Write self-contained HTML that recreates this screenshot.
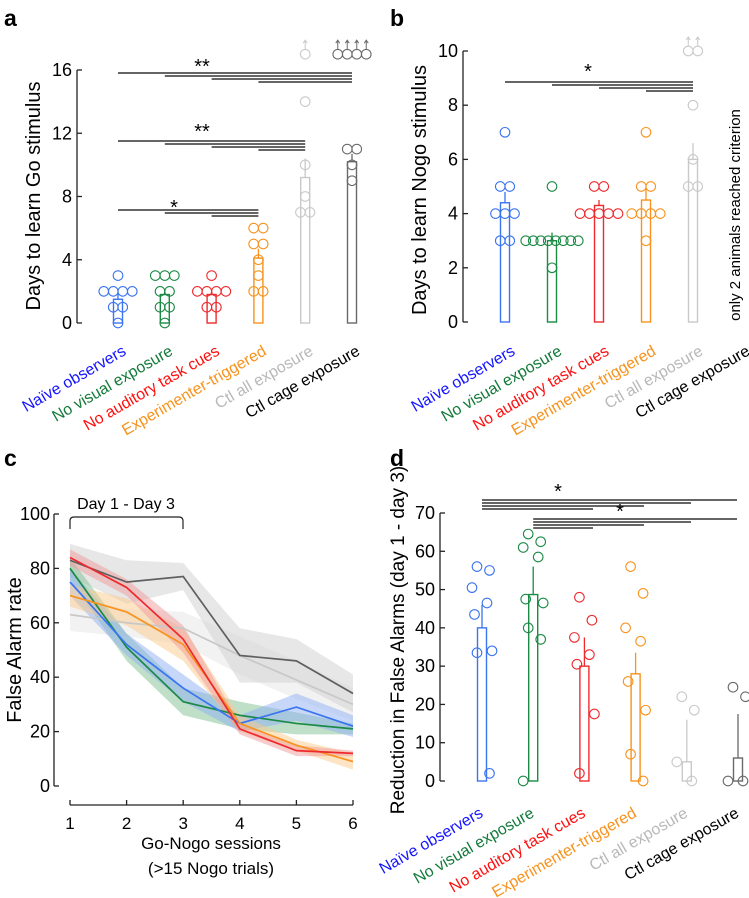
<!DOCTYPE html>
<html><head><meta charset="utf-8">
<style>
html,body{margin:0;padding:0;background:#fff;}
svg{display:block;font-family:"Liberation Sans",Arial,sans-serif;}
</style></head>
<body>
<svg id="fig" width="749" height="898" viewBox="0 0 749 898" xmlns="http://www.w3.org/2000/svg">
<text x="4" y="26" font-size="23" font-weight="bold">a</text>
<text x="390" y="26" font-size="23" font-weight="bold">b</text>
<text x="4" y="466" font-size="23" font-weight="bold">c</text>
<text x="390" y="466" font-size="23" font-weight="bold">d</text>
<text transform="translate(40,196) rotate(-90)" text-anchor="middle" font-size="20">Days to learn Go stimulus</text>
<text transform="translate(426,190) rotate(-90)" text-anchor="middle" font-size="20">Days to learn Nogo stimulus</text>
<text transform="translate(740,215) rotate(-90)" text-anchor="middle" font-size="15">only 2 animals reached criterion</text>
<text transform="translate(21,650) rotate(-90)" text-anchor="middle" font-size="20">False Alarm rate</text>
<text transform="translate(404,640) rotate(-90)" text-anchor="middle" font-size="19">Reduction in False Alarms (day 1 - day 3)</text>
<text x="211" y="849" text-anchor="middle" font-size="17">Go-Nogo sessions</text>
<text x="211" y="874" text-anchor="middle" font-size="17">(&gt;15 Nogo trials)</text>
<text x="126" y="509" text-anchor="middle" font-size="16">Day 1 - Day 3</text>
<path d="M70,529 V521 Q70,517 74,517 H179 Q183,517 183,521 V529" fill="none" stroke="#222" stroke-width="1.2"/>
</svg>
<script>
const groupNames = ["Naïve observers","No visual exposure","No auditory task cues","Experimenter-triggered","Ctl all exposure","Ctl cage exposure"];
const groupColors = ["#3a74f0","#1b8a45","#ee2a2e","#f7931e","#c9c9c9","#6a6a6a"];
const labelColors = ["#1515ff","#137a3a","#ff1010","#f7931e","#b8b8b8","#000000"];

// panel a
const aMeans = [1.5,1.8,1.8,4.1,9.2,10.2];
const aErr = [1.9,2.1,2.0,4.7,10.4,10.7];
const aPoints = [[3,2,2,2,2,1,1,0],[3,3,3,2,2,1,1,0],[3,2,2,2,2,1,1],[6,6,5,5,4,3,2,2],[17,14,10,8,7,7],[17,17,17,17,11,11,10,9]];
const aArrows = [0,0,0,0,1,4];
const aTicks = [0,4,8,12,16];
// panel b
const bMeans = [4.4,3.0,4.3,4.5,6.0];
const bErr = [4.8,3.3,4.5,4.9,6.6];
const bPoints = [[7,5,5,4,4,4,3,3],[5,3,3,3,3,3,3,3,3,2],[5,5,4,4,4,4,4],[7,5,5,4,4,4,4,3],[10,10,8,6,5,5]];
const bArrows = [0,0,0,0,2];
const bTicks = [0,2,4,6,8,10];
// panel c
const cSessions = [1,2,3,4,5,6];
const cTicksY = [0,20,40,60,80,100];
const cDark = [83,75,77,48,46,34];
const cLight = [63,60,58,48,39,30];
const cRed = [84,73,54,21,13,12];
const cOrange = [70,64,52,23,15,9];
const cGreen = [80,51,31,26,23,21];
const cBlue = [75,52,36,23,29,22];
const cDarkSem = [6,8,5,10,8,7];
const cLightSem = [6,5,6,7,7,6];
const cRedSem = [3,3,5,2,2,1];
const cOrangeSem = [4,5,6,3,2,3];
const cGreenSem = [4,5,5,5,4,2];
const cBlueSem = [5,4,5,3,5,4];
// panel d
const dMeans = [40,48.7,30,28,5,6];
const dErr = [46,56,37.5,33.5,16,17.5];
const dPoints = [[56,55,50.5,46.5,43.5,34,33.5,2],[64.5,62.5,61,58.5,47.5,46.5,40,37,0],[48,42,37.5,33,30.5,17.5,2],[56,49,40,36.5,26,18.5,7,0],[22,18.5,5,0],[24.5,22,0,0]];
const dTicks = [0,10,20,30,40,50,60,70];

const NS="http://www.w3.org/2000/svg";
const svg=document.getElementById('fig');
function mk(tag,attrs,parent){const e=document.createElementNS(NS,tag);for(const k in attrs)e.setAttribute(k,attrs[k]);(parent||svg).appendChild(e);return e;}

function barPanel(cfg){
  const g=mk('g',{});
  
  
  const y=v=>cfg.y0-(v-cfg.vmin)*(cfg.y0-cfg.yTop)/(cfg.vmax-cfg.vmin);
  const ax=mk('path',{d:`M${cfg.axX},${y(cfg.vmax)} V${y(cfg.vmin)}`,stroke:'#222','stroke-width':1.3,fill:'none'},g);
  
  
  cfg.ticks.forEach(t=>{
    const tk=mk('path',{d:`M${cfg.axX},${y(t)} H${cfg.axX+5}`,stroke:'#222','stroke-width':1.3},g);
    
    
    const tl=mk('text',{x:cfg.axX-5,y:y(t)+6,'text-anchor':'end','font-size':18},g);
    tl.textContent=t;
    
    
  });
  const bx=i=>cfg.x0+i*cfg.dx;
  (cfg.sig||[]).forEach(s=>{
    s.starts.forEach((si,k)=>{
      const endX=s.ends?s.ends[k]:bx(s.end);
      const ln=mk('path',{d:`M${bx(si)},${s.y+k*3} H${endX}`,stroke:'#333','stroke-width':1.4},g);
      
      
    });
    const st=mk('text',{x:s.sx,y:s.sy,'text-anchor':'middle','font-size':20},g);
    st.textContent=s.star;
    
    
  });
  cfg.means.forEach((m,i)=>{
    const c=groupColors[i];
    const er=mk('path',{d:`M${bx(i)},${y(m)} V${y(cfg.err[i])}`,stroke:c,'stroke-width':1.3},g);
    
    
    const r=mk('rect',{x:bx(i)-4.5,y:y(m),width:9,height:y(cfg.vmin)-y(m),fill:'none',stroke:c,'stroke-width':1.4},g);
    
    
    const pts=cfg.points[i];
    const counts={};pts.forEach(v=>counts[v]=(counts[v]||0)+1);
    const seen={};
    let arrowsLeft=(cfg.arrows?cfg.arrows[i]:0);
    pts.forEach((v,k)=>{
      let ox;
      if(cfg.scatter){ox=(k%2?1:-1)*(5+(k%3)*2.5);}
      else{const n=counts[v];const j=(seen[v]=(seen[v]||0)+1)-1;ox=(j-(n-1)/2)*(n>6?7.5:9.5);}
      const px=bx(i)+ox, py=y(v);
      const cc=mk('circle',{cx:px,cy:py,r:4.8,fill:'none',stroke:c,'stroke-width':1.1},g);
      
      
      if(arrowsLeft>0 && v===Math.max(...pts)){
        arrowsLeft--;
        const a=mk('path',{d:`M${px},${py-5} V${py-13} M${px-2},${py-11} L${px},${py-14} L${px+2},${py-11}`,stroke:c,'stroke-width':1,fill:'none'},g);
        
        
      }
    });
  });
  cfg.labels.forEach((name,i)=>{
    const lx=bx(i)+cfg.labOff[0], ly=cfg.labOff[1];
    const t=mk('text',{transform:`translate(${lx},${ly}) rotate(-30)`,'text-anchor':'end','font-size':16,fill:labelColors[i]},g);
    t.textContent=name;
    
    
  });
}

barPanel({name:'panel-a-chart',axX:77,y0:323,yTop:70,vmin:0,vmax:16,ticks:aTicks,x0:118,dx:46.8,means:aMeans,err:aErr,points:aPoints,arrows:aArrows,labels:groupNames,labOff:[9,354],
  sig:[{y:73,starts:[0,1,2,3],end:5,star:'**',sx:202,sy:73},{y:141,starts:[0,1,2,3],end:4,star:'**',sx:202,sy:138},{y:210,starts:[0,1,2],end:3,star:'*',sx:174,sy:214}]});
barPanel({name:'panel-b-chart',axX:463,y0:322,yTop:51,vmin:0,vmax:10,ticks:bTicks,x0:505,dx:47,means:bMeans,err:bErr,points:bPoints,arrows:bArrows,labels:groupNames,labOff:[11,354],
  sig:[{y:82,starts:[0,1,2,3],end:4,star:'*',sx:588,sy:78}]});
barPanel({name:'panel-d-chart',axX:440,y0:781,yTop:513,vmin:0,vmax:70,ticks:dTicks,x0:482,dx:51.2,means:dMeans,err:dErr,points:dPoints,scatter:true,labels:groupNames,labOff:[2,816],
  sig:[{y:500,starts:[0,0,0,0],ends:[737,691,644,593],star:'*',sx:558,sy:498},{y:519,starts:[1,1,1,1],ends:[737,691,644,593],star:'*',sx:620,sy:518}]});

// panel c
(function(){
  const g=mk('g',{});
  
  
  const X=s=>70+(s-1)*(353-70)/5;
  const Y=v=>786-v*(786-514)/100;
  const ya=mk('path',{d:`M54,${Y(100)} V${Y(0)}`,stroke:'#222','stroke-width':1.3,fill:'none'},g);
  
  
  cTicksY.forEach(t=>{
    const tk=mk('path',{d:`M54,${Y(t)} H59`,stroke:'#222','stroke-width':1.3},g);
    
    
    const tl=mk('text',{x:50,y:Y(t)+6,'text-anchor':'end','font-size':18},g);
    tl.textContent=t;
    
    
  });
  const xa=mk('path',{d:`M${X(1)},805 H${X(6)}`,stroke:'#222','stroke-width':1.3},g);
  
  
  cSessions.forEach(s=>{
    const tk=mk('path',{d:`M${X(s)},805 V800`,stroke:'#222','stroke-width':1.3},g);
    
    
    const tl=mk('text',{x:X(s),y:829,'text-anchor':'middle','font-size':17},g);
    tl.textContent=s;
    
    
  });
  const series=[[cLight,cLightSem,'#c8c8c8','#e6e6e6','ctl-all'],[cDark,cDarkSem,'#5f5f5f','#cfcfcf','ctl-cage'],[cGreen,cGreenSem,'#1b8a45','#7fbf93','no-visual'],[cBlue,cBlueSem,'#3a74f0','#8fb0f4','naive'],[cOrange,cOrangeSem,'#f7931e','#f9c98c','experimenter'],[cRed,cRedSem,'#ee2a2e','#f09a9a','no-auditory']];
  series.forEach(([v,e,c,fc,nm])=>{
    const up=cSessions.map((s,i)=>`${X(s)},${Y(v[i]+e[i])}`);
    const dn=cSessions.map((s,i)=>`${X(s)},${Y(v[i]-e[i])}`).reverse();
    const b=mk('polygon',{points:up.concat(dn).join(' '),fill:fc,'fill-opacity':0.5,stroke:'none'},g);
    
    
  });
  series.forEach(([v,e,c,fc,nm])=>{
    const l=mk('polyline',{points:cSessions.map((s,i)=>`${X(s)},${Y(v[i])}`).join(' '),fill:'none',stroke:c,'stroke-width':1.7},g);
    
    
  });
})();
</script>
</body></html>
